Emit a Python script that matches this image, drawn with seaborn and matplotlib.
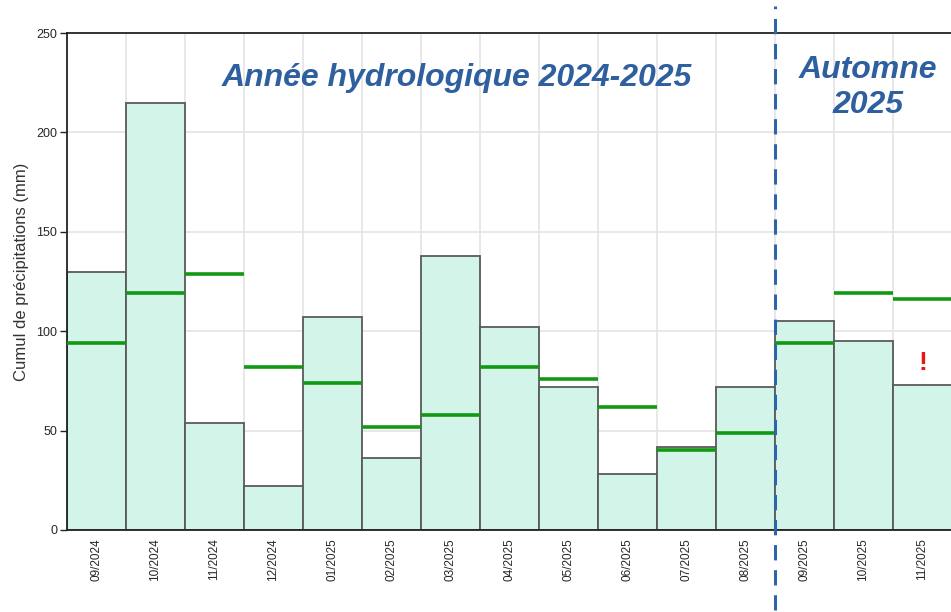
import numpy as np
import pandas as pd
import matplotlib
matplotlib.use("Agg")
import matplotlib.pyplot as plt
import seaborn as sns

# Monthly precipitation totals (mm) and the normal for each month
months = ['09/2024', '10/2024', '11/2024', '12/2024', '01/2025', '02/2025',
          '03/2025', '04/2025', '05/2025', '06/2025', '07/2025', '08/2025',
          '09/2025', '10/2025', '11/2025']
precip = [130, 215, 54, 22, 107, 36, 138, 102, 72, 28, 42, 72, 105, 95, 73]
normal = [94, 119, 129, 82, 74, 52, 58, 82, 76, 62, 40, 49, 94, 119, 116]

y_ticks = [0, 50, 100, 150, 200, 250]
title_hydro = "Année hydrologique 2024-2025"
title_autumn = "Automne\n2025"

sns.set_theme(style="white")
plt.rcParams['font.family'] = ['Liberation Sans', 'DejaVu Sans']

df = pd.DataFrame({'mois': months, 'cumul': precip, 'normale': normal})

fig = plt.figure(figsize=(9.51, 6.12), dpi=100)
ax = fig.add_axes([67 / 951, 1 - 530 / 612, 885 / 951, 497 / 612])

sns.barplot(data=df, x='mois', y='cumul', width=1.0, color='#d3f5e9',
            saturation=1, edgecolor='#5a5a5a', linewidth=1.3, ax=ax, zorder=2)

# normals as short green segments across each bar
for i, v in enumerate(normal):
    ax.hlines(v, i - 0.5, i + 0.5, color='#119a11', linewidth=2.6, zorder=4)

ax.set_xlim(-0.5, len(months) - 0.5)
ax.set_ylim(0, 250)
ax.set_yticks(y_ticks)
ax.set_yticklabels([str(t) for t in y_ticks], fontsize=9)

# grid: horizontal at ticks, vertical at bar boundaries
for t in y_ticks[1:-1]:
    ax.axhline(t, color='#e4e4e4', linewidth=1.2, zorder=0)
for i in range(len(months) - 1):
    ax.axvline(i + 0.5, color='#e4e4e4', linewidth=1.2, zorder=0)

ax.set_xticks(range(len(months)))
ax.set_xticklabels(months, rotation=90, fontsize=8.5)
ax.set_xlabel('')
ax.set_ylabel('Cumul de précipitations (mm)', fontsize=12, color='#333333')
ax.yaxis.set_label_coords(-0.043, 0.52)
ax.tick_params(axis='y', length=5, width=1, color='#222222', direction='out', left=True, pad=2)
ax.tick_params(axis='x', length=0, pad=6)

for side in ['left', 'bottom', 'top']:
    ax.spines[side].set_color('#222222')
    ax.spines[side].set_linewidth(1.3)
ax.spines['right'].set_visible(False)

# separation between hydrological year and autumn
ax.axvline(11.5, ymin=-0.16, ymax=1.055, color='#2e64a8', linewidth=2.2,
           linestyle=(0, (5, 3.2)), clip_on=False, zorder=5)

ax.text(0.44, 0.91, title_hydro, transform=ax.transAxes, ha='center', va='center',
        fontsize=23, fontweight='bold', fontstyle='italic', color='#2e5f9e')
ax.text(0.905, 0.89, title_autumn, transform=ax.transAxes, ha='center', va='center',
        fontsize=23, fontweight='bold', fontstyle='italic', color='#2e5f9e',
        linespacing=1.22)
ax.text(14.0, 84, '!', ha='center', va='center', fontsize=19,
        fontweight='bold', color='#ee1111', zorder=6)

fig.savefig('out.png', dpi=100)
